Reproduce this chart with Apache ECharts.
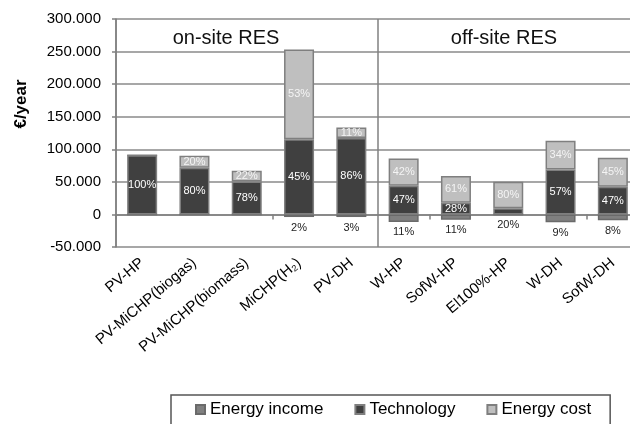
<!DOCTYPE html>
<html>
<head>
<meta charset="utf-8">
<script src="https://cdn.jsdelivr.net/npm/echarts@6/dist/echarts.min.js"></script>
<style>
    html, body { margin: 0; padding: 0; background: #fff; }
    #chart { width: 630px; height: 424px; }
</style>
</head>
<body>
<div id="chart"></div>
<script>
// scenario names
var categories = ['PV-HP', 'PV-MiCHP(biogas)', 'PV-MiCHP(biomass)', 'MiCHP(H₂)', 'PV-DH',
    'W-HP', 'SofW-HP', 'El100%-HP', 'W-DH', 'SofW-DH'];

// €/year
var energyIncome = [0, 0, 0, -4000, -4000, -11500, -8000, 0, -12000, -9000];
var technology = [91000, 71500, 50500, 115500, 117500, 44000, 18000, 9500, 69000, 42500];
var energyCost = [0, 18500, 16500, 137500, 16000, 42000, 41000, 40500, 44000, 44500];

// percentage labels printed on the bars
var incomePct = ['', '', '', '2%', '3%', '11%', '11%', '', '9%', '8%'];
var techPct = ['100%', '80%', '78%', '45%', '86%', '47%', '28%', '20%', '57%', '47%'];
var costPct = ['', '20%', '22%', '53%', '11%', '42%', '61%', '80%', '34%', '45%'];

var yTicks = { min: -50000, max: 300000, interval: 50000 };

window.onload = function () {
    drawChart('chart');
}

function fmtThousands(v) {
    var s = String(Math.abs(v)).replace(/\B(?=(\d{3})+(?!\d))/g, '.');
    return (v < 0 ? '-' : '') + s;
}

function drawChart(id) {
    let chart = echarts.init(document.getElementById(id), null, { renderer: 'canvas' });
    let font = 'Liberation Sans, Arial, sans-serif';

    let techData = technology.map(function (v, i) {
        // small bars get their label underneath, like in the original
        if (v < 15000) {
            return { value: v, label: { position: 'bottom', distance: 5, color: '#222' } };
        }
        return v;
    });

    let option = {
        textStyle: { fontFamily: font },
        animation: false,
        grid: {
            left: 116,
            top: 19,
            width: 523,   // the plot runs a bit past the right edge of the picture
            bottom: 177,
            outerBoundsMode: 'none'
        },
        legend: {
            data: ['Energy income', 'Technology', 'Energy cost'],
            left: 171,
            top: 395,
            padding: [6, 19, 30, 24],
            itemGap: 31,
            itemWidth: 9,
            itemHeight: 9,
            icon: 'rect',
            borderColor: '#555',
            borderWidth: 1.5,
            textStyle: { fontSize: 17, color: '#000', fontFamily: font }
        },
        xAxis: [
            {
                type: 'category',
                data: categories,
                axisLine: { onZero: true, lineStyle: { color: '#808080', width: 1.5 } },
                axisTick: { show: true, length: 5, lineStyle: { color: '#808080', width: 1.5 } },
                axisLabel: { show: false },
                splitLine: { show: false }
            },
            {
                type: 'category',
                data: categories,
                position: 'bottom',
                axisLine: { show: false, onZero: false },
                axisTick: { show: false },
                axisLabel: {
                    rotate: 40,
                    interval: 0,
                    margin: 14,
                    fontSize: 15,
                    color: '#000'
                }
            },
            {
                // only used for the on-site / off-site divider
                type: 'value',
                min: 0,
                max: 10,
                interval: 5,
                show: true,
                position: 'top',
                axisLine: { show: false },
                axisTick: { show: false },
                axisLabel: { show: false },
                splitLine: { show: true, lineStyle: { color: '#808080', width: 1.5 } }
            }
        ],
        yAxis: {
            type: 'value',
            min: yTicks.min,
            max: yTicks.max,
            interval: yTicks.interval,
            axisLine: { show: true, lineStyle: { color: '#808080', width: 1.5 } },
            axisTick: { show: true, length: 4, lineStyle: { color: '#808080', width: 1.5 } },
            axisLabel: {
                fontSize: 15,
                color: '#000',
                margin: 15,
                formatter: fmtThousands
            },
            splitLine: { show: true, lineStyle: { color: '#8a8a8a', width: 1.5 } }
        },
        series: [
            {
                name: 'Energy income',
                type: 'bar',
                stack: 'total',
                barWidth: 30,
                itemStyle: { color: '#808080', borderColor: '#6a6a6a', borderWidth: 1.5 },
                label: {
                    show: true,
                    position: 'bottom',
                    distance: 5,
                    fontSize: 11,
                    color: '#222',
                    formatter: function (p) { return incomePct[p.dataIndex]; }
                },
                data: energyIncome
            },
            {
                name: 'Technology',
                type: 'bar',
                stack: 'total',
                barWidth: 30,
                itemStyle: { color: '#404040', borderColor: '#7f7f7f', borderWidth: 1.5 },
                label: {
                    show: true,
                    position: 'inside',
                    fontSize: 11,
                    color: '#fff',
                    formatter: function (p) { return techPct[p.dataIndex]; }
                },
                data: techData
            },
            {
                name: 'Energy cost',
                type: 'bar',
                stack: 'total',
                barWidth: 30,
                itemStyle: { color: '#bfbfbf', borderColor: '#7f7f7f', borderWidth: 1.5 },
                label: {
                    show: true,
                    position: 'inside',
                    fontSize: 11,
                    color: '#f4f4f4',
                    formatter: function (p) { return costPct[p.dataIndex]; }
                },
                data: energyCost
            }
        ],
        graphic: [
            {
                type: 'text',
                x: 21,
                y: 104,
                rotation: Math.PI / 2,
                style: {
                    text: '€/year',
                    font: 'bold 17px ' + font,
                    fill: '#000',
                    align: 'center',
                    verticalAlign: 'middle'
                }
            },
            {
                type: 'text',
                x: 226,
                y: 38,
                style: {
                    text: 'on-site RES',
                    font: '20px ' + font,
                    fill: '#111',
                    align: 'center',
                    verticalAlign: 'middle'
                }
            },
            {
                type: 'text',
                x: 504,
                y: 38,
                style: {
                    text: 'off-site RES',
                    font: '20px ' + font,
                    fill: '#111',
                    align: 'center',
                    verticalAlign: 'middle'
                }
            }
        ]
    };

    chart.setOption(option);
    return chart;
}
</script>
</body>
</html>
